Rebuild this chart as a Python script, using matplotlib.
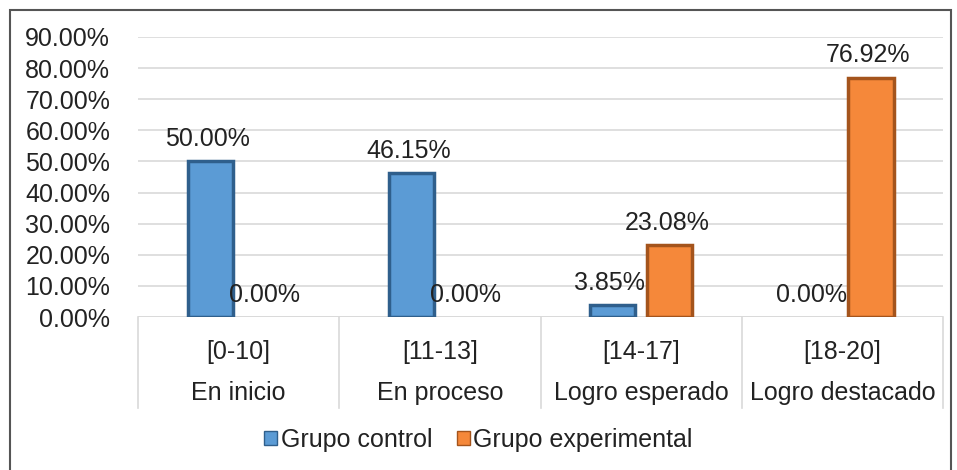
import numpy as np
import matplotlib.pyplot as plt
from matplotlib.patches import Rectangle, Patch
from matplotlib.ticker import FuncFormatter

# data
rangos = ['[0-10]', '[11-13]', '[14-17]', '[18-20]']
niveles = ['En inicio', 'En proceso', 'Logro esperado', 'Logro destacado']
control = [50.00, 46.15, 3.85, 0.00]
experimental = [0.00, 0.00, 23.08, 76.92]
series = ['Grupo control', 'Grupo experimental']

plt.rcParams['font.family'] = ['Liberation Sans', 'DejaVu Sans']
fs = 18

fig = plt.figure(figsize=(9.57, 4.70), dpi=100)
ax = fig.add_axes([0.1442, 0.3255, 0.8412, 0.5958])

x = np.arange(len(rangos))
w = 0.224
off = 0.142

b1 = ax.bar(x - off, control, w, color='#5b9bd5', edgecolor='#2f5f8c', linewidth=2.5, zorder=3)
b2 = ax.bar(x + off, experimental, w, color='#f5883a', edgecolor='#a4541c', linewidth=2.5, zorder=3)

for bars, vals in ((b1, control), (b2, experimental)):
    for r, v in zip(bars, vals):
        if v == 0:
            r.set_linewidth(0)   # empty bars show nothing
        ax.annotate('%.2f%%' % v, (r.get_x() + r.get_width() / 2, v),
                    xytext=(-2, 16), textcoords='offset points',
                    ha='center', va='center', fontsize=fs, color='#222222', zorder=5)

ax.set_xlim(-0.5, 3.5)
ax.set_ylim(0, 90)
ax.set_yticks(np.arange(0, 91, 10))
ax.yaxis.set_major_formatter(FuncFormatter(lambda v, p: '%.2f%%' % v))
ax.tick_params(axis='y', length=0, pad=20, labelsize=fs, labelcolor='#222222')
ax.set_xticks([])
ax.grid(axis='y', color='#d9d9d9', linewidth=1.2, zorder=0)
for s in ax.spines.values():
    s.set_visible(False)
ax.axhline(0, color='#d9d9d9', linewidth=1.2, zorder=1)

# category table under the axis
tr = ax.get_xaxis_transform()
for k in range(len(rangos) + 1):
    ax.plot([k - 0.5, k - 0.5], [0, -0.325], transform=tr, color='#d9d9d9',
            linewidth=1.2, clip_on=False)
for k in range(len(rangos)):
    ax.text(k, -0.125, rangos[k], transform=tr, ha='center', va='center',
            fontsize=fs, color='#222222')
    ax.text(k, -0.27, niveles[k], transform=tr, ha='center', va='center',
            fontsize=fs, color='#222222')

handles = [Patch(facecolor='#5b9bd5', edgecolor='#2f5f8c'),
           Patch(facecolor='#f5883a', edgecolor='#a4541c')]
fig.legend(handles, series, loc='center', bbox_to_anchor=(0.5, 0.064), ncol=2,
           frameon=False, fontsize=fs, handlelength=0.5, handleheight=0.5,
           handletextpad=0.15, columnspacing=1.0, labelcolor='#222222')

# outer frame
fig.patches.append(Rectangle((10 / 957, -0.05), 941 / 957, (460 / 470) + 0.05,
                             transform=fig.transFigure, fill=False,
                             edgecolor='#555555', linewidth=1.5))

fig.savefig('out.png', dpi=100)
